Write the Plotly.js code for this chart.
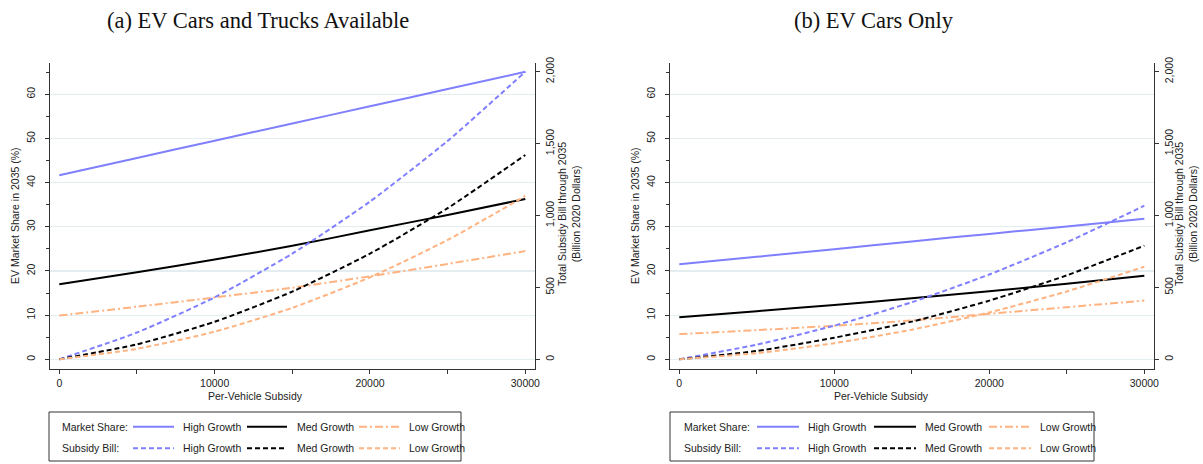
<!DOCTYPE html>
<html>
<head>
<meta charset="utf-8">
<script src="https://cdn.plot.ly/plotly-3.0.1.min.js"></script>
<style>html,body{margin:0;padding:0;background:#fff;}#chart{width:1203px;height:464px;}</style>
</head>
<body>
<div id="chart"></div>
<script>
// ---- data ----
const subsidy = [0, 5000, 10000, 15000, 20000, 25000, 30000];

// (a) EV Cars and Trucks Available
const a_shareHigh = [41.7, 45.6, 49.5, 53.4, 57.3, 61.2, 65.1];
const a_shareMed  = [17.0, 19.7, 22.6, 25.7, 29.2, 32.7, 36.3];
const a_shareLow  = [9.9, 11.9, 14.0, 16.2, 18.8, 21.6, 24.5];
const a_billHigh  = [0, 186, 431, 735, 1097, 1519, 2000];
const a_billMed   = [0, 104, 261, 471, 735, 1051, 1421];
const a_billLow   = [0, 73, 192, 358, 570, 830, 1136];

// (b) EV Cars Only
const b_shareHigh = [21.5, 23.2, 24.9, 26.7, 28.4, 30.1, 31.8];
const b_shareMed  = [9.5, 10.9, 12.3, 13.8, 15.4, 17.1, 18.9];
const b_shareLow  = [5.7, 6.6, 7.6, 8.8, 10.3, 11.8, 13.3];
const b_billHigh  = [0, 102, 234, 397, 590, 814, 1068];
const b_billMed   = [0, 58, 150, 262, 408, 584, 790];
const b_billLow   = [0, 43, 112, 206, 326, 472, 644];

const panelTitles = ['(a) EV Cars and Trucks Available', '(b) EV Cars Only'];
const xTitle = 'Per-Vehicle Subsidy';
const yLeftTitle = 'EV Market Share in 2035 (%)';
const yRightTitle = 'Total Subsidy Bill through 2035<br>(Billion 2020 Dollars)';
const legendRowLabels = ['Market Share:', 'Subsidy Bill:'];
const legendItemLabels = ['High Growth', 'Med Growth', 'Low Growth'];

// ---- style ----
const W = 1203, H = 464;
const px = v => v / W;
const py = v => 1 - v / H;
const BLUE = '#7f7fff', BLACK = '#000000', ORANGE = '#ffb380';
const DASH = '5px,3px';
const DASHDOT = '8px,3px,2px,3px';
const SANS = 'Liberation Sans, Arial, sans-serif';
const SERIF = 'Liberation Serif, Times New Roman, serif';
const AX = '#333333';

function tr(y, xa, ya, color, dash) {
  return {x: subsidy, y: y, xaxis: xa, yaxis: ya, type: 'scatter', mode: 'lines',
    line: {color: color, width: 2, dash: dash, shape: 'spline', smoothing: 0.6},
    showlegend: false, hoverinfo: 'skip'};
}

const traces = [
  tr(a_billHigh, 'x', 'y2', BLUE, DASH),
  tr(a_billMed, 'x', 'y2', BLACK, DASH),
  tr(a_billLow, 'x', 'y2', ORANGE, DASH),
  tr(a_shareLow, 'x', 'y', ORANGE, DASHDOT),
  tr(a_shareMed, 'x', 'y', BLACK, 'solid'),
  tr(a_shareHigh, 'x', 'y', BLUE, 'solid'),
  tr(b_billHigh, 'x2', 'y4', BLUE, DASH),
  tr(b_billMed, 'x2', 'y4', BLACK, DASH),
  tr(b_billLow, 'x2', 'y4', ORANGE, DASH),
  tr(b_shareLow, 'x2', 'y3', ORANGE, DASHDOT),
  tr(b_shareMed, 'x2', 'y3', BLACK, 'solid'),
  tr(b_shareHigh, 'x2', 'y3', BLUE, 'solid')
];

const tickfont = {family: SANS, size: 10.5, color: '#222'};
const yDom = [py(369), py(63)];

function xaxis(d) {
  return {domain: d, range: [-599, 30624], tickvals: [0, 10000, 20000, 30000], tickformat: 'd',
    showgrid: false, zeroline: false, showline: true, linecolor: AX, linewidth: 1,
    ticks: 'outside', ticklen: 4, tickcolor: AX, tickfont: tickfont,
    minor: {tickvals: [5000, 15000, 25000], ticks: 'outside', ticklen: 4, tickcolor: AX, showgrid: false}};
}
function yleft(anchor) {
  return {domain: yDom, anchor: anchor, range: [-2.2, 67.1], tickvals: [0, 10, 20, 30, 40, 50, 60],
    tickangle: -90, ticklabelstandoff: 6, showgrid: true, gridcolor: '#e4eef1', gridwidth: 1.2, zeroline: false,
    showline: true, linecolor: AX, linewidth: 1, ticks: 'outside', ticklen: 4, tickcolor: AX, tickfont: tickfont,
    minor: {tickvals: [5, 15, 25, 35, 45, 55, 65], ticks: 'outside', ticklen: 3, tickcolor: AX, showgrid: false}};
}
function yright(over, anchor) {
  return {domain: yDom, overlaying: over, anchor: anchor, side: 'right', range: [-67.5, 2060.5],
    tickvals: [0, 500, 1000, 1500, 2000], tickformat: ',', tickangle: -90, ticklabelstandoff: 1,
    showgrid: false, zeroline: false,
    showline: true, linecolor: AX, linewidth: 1, ticks: 'outside', ticklen: 4, tickcolor: AX, tickfont: tickfont};
}

const annotations = [];
const shapes = [];
function ann(text, x, y, opts) {
  annotations.push(Object.assign({text: text, x: px(x), y: py(y), xref: 'paper', yref: 'paper',
    showarrow: false, xanchor: 'center', yanchor: 'middle', font: {family: SANS, size: 10.5, color: '#222'}}, opts || {}));
}

// panel geometry
const panels = [
  {title: 258, xt: 255, yl: 15, yr: 569, box: [49, 461], rowLabel: 60,
   lines: [[133, 174], [247, 287], [359, 400]], labels: [181, 295, 407]},
  {title: 874, xt: 881, yl: 635, yr: 1186, box: [670, 1094], rowLabel: 682,
   lines: [[757, 799], [874, 916], [989, 1031]], labels: [806, 923, 1038]}
];
const colors = [BLUE, BLACK, ORANGE];
const rowY = [426.7, 448.3];

panels.forEach((p, i) => {
  ann(panelTitles[i], p.title, 20, {font: {family: SERIF, size: 22.5, color: '#111'}});
  ann(xTitle, p.xt, 396);
  ann(yLeftTitle, p.yl, 216, {textangle: -90});
  ann(yRightTitle, p.yr, 214, {textangle: -90});
  shapes.push({type: 'rect', xref: 'paper', yref: 'paper', x0: px(p.box[0]), x1: px(p.box[1]),
    y0: py(461), y1: py(412), line: {color: '#333', width: 1}, fillcolor: 'rgba(0,0,0,0)', layer: 'above'});
  rowY.forEach((ry, r) => {
    ann(legendRowLabels[r], p.rowLabel, ry, {xanchor: 'left'});
    p.lines.forEach((l, k) => {
      let dash = r === 0 ? (k === 2 ? DASHDOT : 'solid') : DASH;
      shapes.push({type: 'line', xref: 'paper', yref: 'paper', x0: px(l[0]), x1: px(l[1]), y0: py(ry), y1: py(ry),
        line: {color: colors[k], width: 2, dash: dash}});
      ann(legendItemLabels[k], p.labels[k], ry, {xanchor: 'left'});
    });
  });
});

const layout = {
  width: W, height: H, margin: {l: 0, r: 0, t: 0, b: 0},
  paper_bgcolor: '#fff', plot_bgcolor: '#fff', showlegend: false,
  xaxis: xaxis([px(50), px(535)]),
  xaxis2: xaxis([px(670), px(1154)]),
  yaxis: yleft('x'),
  yaxis2: yright('y', 'x'),
  yaxis3: yleft('x2'),
  yaxis4: yright('y3', 'x2'),
  annotations: annotations, shapes: shapes
};
layout.xaxis.anchor = 'y';
layout.xaxis2.anchor = 'y3';

Plotly.newPlot('chart', traces, layout, {staticPlot: true});
</script>
</body>
</html>
